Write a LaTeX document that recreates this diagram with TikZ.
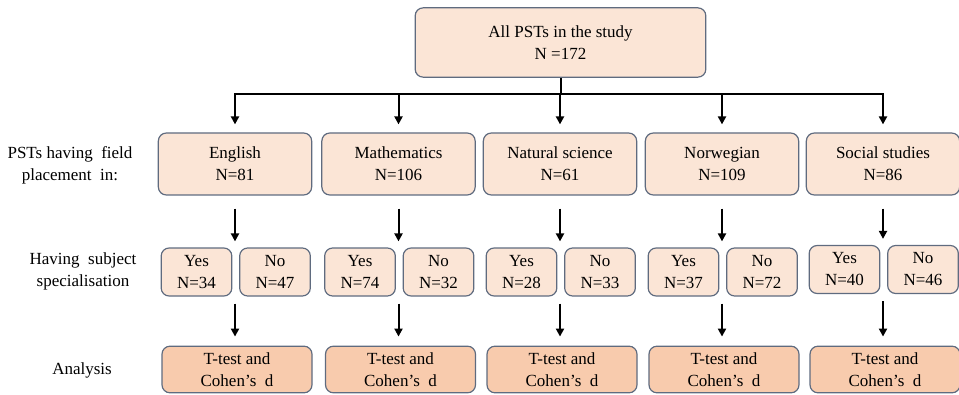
\documentclass[tikz,border=0pt]{standalone}
\usepackage{fontspec}
\setmainfont{Liberation Serif}
\usetikzlibrary{arrows.meta}
\definecolor{boxfill}{HTML}{FBE5D6}
\definecolor{anfill}{HTML}{F8CBAD}
\definecolor{boxline}{HTML}{5F6B7F}

\begin{document}
\begin{tikzpicture}
  [x=0.75pt,y=-0.75pt,
   every node/.style={font=\fontsize{12.75}{16.5}\selectfont,align=center,inner sep=0pt},
   box/.style={draw=boxline,line width=0.9pt,fill=boxfill,rounded corners=6pt,
     minimum width=115pt,minimum height=46.5pt},
   pair/.style={box,minimum width=53pt,minimum height=36pt},
   an/.style={box,fill=anfill,minimum width=112.5pt,minimum height=35pt},
   arr/.style={line width=1.5pt,-{Triangle[length=6pt,width=6pt]}}]
  \useasboundingbox (0,0) rectangle (959,395);

  \node[box,minimum width=218pt,minimum height=52pt] (nall) at (560.5,42.5)
    {All PSTs in the study\\N =172};

  % row labels
  \node (lplace) at (70,165) {PSTs having\enspace field\\placement\enspace in:};
  \node (lspec) at (83,271) {Having\enspace subject\\specialisation};
  \node (lanal) at (82,370) {Analysis};

  % subjects
  \foreach \n/\x/\subj/\N/\yes/\no/\y in {eng/235/English/81/34/47/272,
      mat/398.5/Mathematics/106/74/32/272,
      nat/560/Natural science/61/28/33/272,
      nor/722/Norwegian/109/37/72/272,
      soc/883/Social studies/86/40/46/269.5}
  {
    \node[box] (n\n) at (\x,164) {\subj\\N=\N};
    \node[pair] (yes\n) at (\x-38.5,\y) {Yes\\N=\yes};
    \node[pair] (no\n) at (\x+40,\y) {No\\N=\no};
    \node[an] (an\n) at (\x+2,369.5) {T-test and\\Cohen’s\enspace d};
  }

  \draw[line width=1.5pt] (nall.south) -- ++(0,16) coordinate (bus);
  \foreach \n in {eng,mat,nat,nor,soc}
  {
    \draw[arr,shorten >=6pt] (bus) -| (n\n.north);
    \draw[arr,shorten <=9.75pt,shorten >=4.5pt] (n\n.south) -- (n\n.south |- yes\n.north);
    \draw[arr,shorten <=5.25pt,shorten >=6.75pt] (n\n.south |- yes\n.south) -- (n\n.south |- an\n.north);
  }
\end{tikzpicture}
\end{document}
